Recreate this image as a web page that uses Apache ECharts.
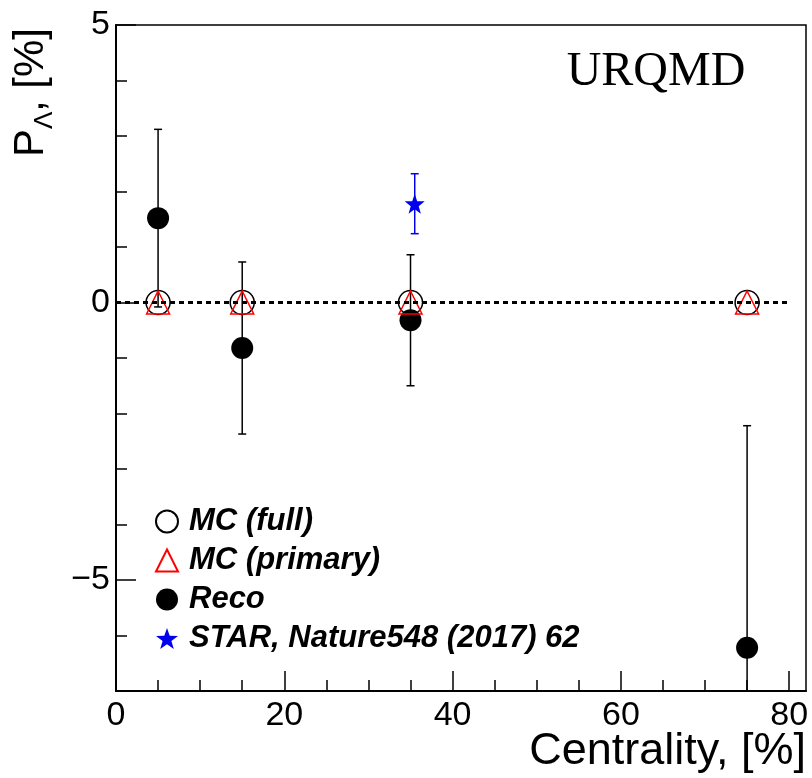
<!DOCTYPE html>
<html>
<head>
<meta charset="utf-8">
<script src="https://cdn.jsdelivr.net/npm/echarts@6/dist/echarts.min.js"></script>
<style>html,body{margin:0;padding:0;background:#fff;}#c{width:812px;height:778px;}</style>
</head>
<body>
<div id="c"></div>
<script>
// ---- data ----
const centrality = [5, 15, 35, 75];
const mcFull = [0, 0, 0, 0];
const mcPrimary = [0, 0, 0, 0];
const reco = [1.52, -0.82, -0.32, -6.22];
const recoErr = [1.6, 1.55, 1.18, 4.0];
const starX = [35.5];
const starY = [1.78];
const starErr = [0.54];
const zeroLineX = [0, 80];
const xMajorTicks = [0, 20, 40, 60, 80];
const xMinorTicks = [5, 10, 15, 25, 30, 35, 45, 50, 55, 65, 70, 75];
const yMajorTicks = [-5, 0, 5];
const yMinorTicks = [-6, -4, -3, -2, -1, 1, 2, 3, 4];
const legendNames = ['MC (full)', 'MC (primary)', 'Reco', 'STAR, Nature548 (2017) 62'];

const FONT = 'Liberation Sans, Arial, Helvetica, sans-serif';
const starPath = 'path://M0,-100 L23.5,-32.4 L95.1,-30.9 L38,12.4 L58.8,80.9 L0,40 L-58.8,80.9 L-38,12.4 L-95.1,-30.9 L-23.5,-32.4 Z';

function errBar(color, capW) {
  return function (params, api) {
    const x = api.value(0), y = api.value(1), e = api.value(2);
    const top = api.coord([x, y + e]);
    const bot = api.coord([x, y - e]);
    const cs = params.coordSys;
    const yMin = cs.y, yMax = cs.y + cs.height;
    const t = Math.max(top[1], yMin), b = Math.min(bot[1], yMax);
    const st = { stroke: color, lineWidth: 1.5 };
    const ch = [{ type: 'line', shape: { x1: top[0], y1: t, x2: top[0], y2: b }, style: st }];
    if (top[1] >= yMin) ch.push({ type: 'line', shape: { x1: top[0] - capW / 2, y1: top[1], x2: top[0] + capW / 2, y2: top[1] }, style: st });
    if (bot[1] <= yMax) ch.push({ type: 'line', shape: { x1: bot[0] - capW / 2, y1: bot[1], x2: bot[0] + capW / 2, y2: bot[1] }, style: st });
    return { type: 'group', children: ch };
  };
}

const chart = echarts.init(document.getElementById('c'), null, { renderer: 'canvas' });
const axisBase = { type: 'value', splitLine: { show: false } };
chart.setOption({
  animation: false,
  backgroundColor: '#fff',
  grid: { left: 116, top: 25, width: 690, height: 666, show: true, borderColor: '#000', borderWidth: 1.5, backgroundColor: 'transparent' },
  xAxis: [
    Object.assign({}, axisBase, { min: 0, max: 82, position: 'bottom',
      axisLine: { show: true, onZero: false, lineStyle: { color: '#000', width: 2 } },
      axisTick: { show: true, inside: true, length: 11, customValues: xMinorTicks, lineStyle: { color: '#000', width: 1.5 } },
      axisLabel: { show: false } }),
    Object.assign({}, axisBase, { min: 0, max: 82, position: 'bottom',
      axisLine: { show: false, onZero: false },
      axisTick: { show: true, inside: true, length: 20, customValues: xMajorTicks, lineStyle: { color: '#000', width: 1.5 } },
      axisLabel: { show: true, customValues: xMajorTicks, margin: 8, fontSize: 34, fontFamily: FONT, color: '#000' } })
  ],
  yAxis: [
    Object.assign({}, axisBase, { min: -7, max: 5, position: 'left',
      axisLine: { show: true, onZero: false, lineStyle: { color: '#000', width: 2 } },
      axisTick: { show: true, inside: true, length: 11, customValues: yMinorTicks, lineStyle: { color: '#000', width: 1.5 } },
      axisLabel: { show: false } }),
    Object.assign({}, axisBase, { min: -7, max: 5, position: 'left',
      axisLine: { show: false, onZero: false },
      axisTick: { show: true, inside: true, length: 20, customValues: yMajorTicks, lineStyle: { color: '#000', width: 1.5 } },
      axisLabel: { show: true, customValues: yMajorTicks, margin: 6, fontSize: 34, fontFamily: FONT, color: '#000',
        formatter: v => (v < 0 ? '\u2212' + Math.abs(v) : String(v)) } })
  ],
  legend: {
    orient: 'vertical', left: 150, top: 501, itemWidth: 22, itemHeight: 22, itemGap: 8,
    data: legendNames,
    textStyle: { fontFamily: FONT, fontWeight: 'bold', fontStyle: 'italic', fontSize: 31, lineHeight: 30, color: '#000', padding: [0, 0, 0, 6] },
    selectedMode: false
  },
  graphic: [
    { type: 'text', x: 656, y: 72, style: { text: 'URQMD', font: '48px "Liberation Serif", "Times New Roman", serif', fill: '#000', align: 'center', verticalAlign: 'middle' } },
    { type: 'text', x: 806, y: 752, style: { text: 'Centrality, [%]', font: '45px ' + FONT, fill: '#000', align: 'right', verticalAlign: 'middle' } },
    { type: 'group', x: 31, y: 157, rotation: Math.PI / 2, children: [
      { type: 'text', x: 0, y: 0, style: { text: 'P', font: '42px ' + FONT, fill: '#000', align: 'left', verticalAlign: 'middle' } },
      { type: 'text', x: 28, y: 14, style: { text: '\u039B', font: '26px ' + FONT, fill: '#000', align: 'left', verticalAlign: 'middle' } },
      { type: 'text', x: 45, y: 0, style: { text: ', [%]', font: '42px ' + FONT, fill: '#000', align: 'left', verticalAlign: 'middle' } }
    ] }
  ],
  series: [
    { type: 'custom', name: 'recoErr', renderItem: errBar('#000', 8), z: 2, silent: true,
      data: centrality.map((x, i) => [x, reco[i], recoErr[i]]), encode: { x: 0, y: 1 } },
    { type: 'scatter', name: 'Reco', symbol: 'circle', symbolSize: 22, z: 3,
      itemStyle: { color: '#000', opacity: 1 }, data: centrality.map((x, i) => [x, reco[i]]) },
    { type: 'scatter', name: 'MC (full)', symbol: 'circle', symbolSize: 24, z: 4,
      itemStyle: { color: 'rgba(255,255,255,0)', borderColor: '#000', borderWidth: 1.5, opacity: 1 }, data: centrality.map((x, i) => [x, mcFull[i]]) },
    { type: 'scatter', name: 'MC (primary)', symbol: 'triangle', symbolSize: 23, z: 5,
      itemStyle: { color: 'rgba(255,255,255,0)', borderColor: '#ff0000', borderWidth: 1.5, opacity: 1 }, data: centrality.map((x, i) => [x, mcPrimary[i]]) },
    { type: 'custom', name: 'starErr', renderItem: errBar('#0000ee', 8), z: 2, silent: true,
      data: starX.map((x, i) => [x, starY[i], starErr[i]]), encode: { x: 0, y: 1 } },
    { type: 'scatter', name: 'STAR, Nature548 (2017) 62', symbol: starPath, symbolSize: 20, z: 3,
      itemStyle: { color: '#0000ee', opacity: 1 }, data: starX.map((x, i) => [x, starY[i]]) },
    { type: 'line', name: 'zero', data: zeroLineX.map(x => [x, 0]), symbol: 'none', silent: true, z: 6,
      lineStyle: { color: '#000', width: 3, type: [5, 4] } }
  ]
});
</script>
</body>
</html>
